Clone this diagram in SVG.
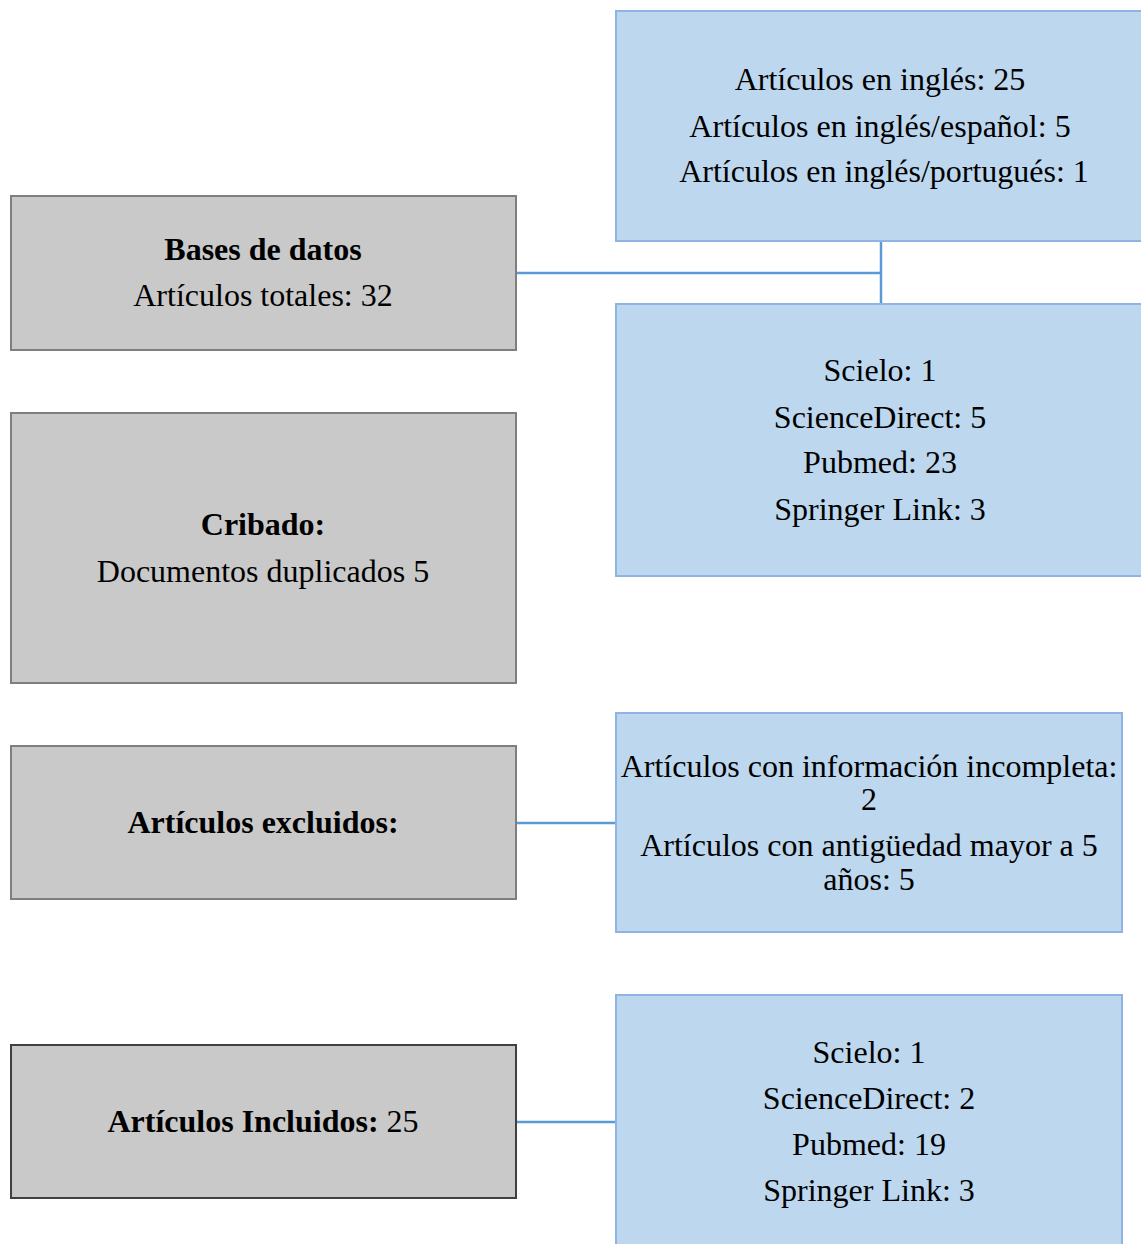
<svg xmlns="http://www.w3.org/2000/svg" width="1141" height="1244" viewBox="0 0 1141 1244">
<style>
text{font-family:"Liberation Serif","Times New Roman",serif;font-size:32px;fill:#000;text-anchor:middle}
.b{font-weight:bold}
.gray{fill:#c9c9c9;stroke:#7f7f7f;stroke-width:2}
.dark{stroke:#404040}
.blue{fill:#bdd7ee;stroke:#8fb4e3;stroke-width:2}
.conn{fill:none;stroke:#5b9bd5;stroke-width:2.5}
</style>
<rect width="1141" height="1244" fill="#fff"/>
<g id="connectors">
<path class="conn" d="M516 273H881"/>
<path class="conn" d="M881 241V304"/>
<path class="conn" d="M516 823H616"/>
<path class="conn" d="M516 1122H616"/>
</g>
<g id="idiomas">
<rect class="blue" x="616" y="11" width="530" height="230"/>
<text x="880" y="90">Artículos en inglés: 25</text>
<text x="880" y="137">Artículos en inglés/español: 5</text>
<text x="884" y="182">Artículos en inglés/portugués: 1</text>
</g>
<g id="bases">
<rect class="gray" x="11" y="196" width="505" height="154"/>
<text x="263" y="260" class="b">Bases de datos</text>
<text x="263" y="306">Artículos totales: 32</text>
</g>
<g id="fuentes">
<rect class="blue" x="616" y="304" width="530" height="272"/>
<text x="880" y="381">Scielo: 1</text>
<text x="880" y="428">ScienceDirect: 5</text>
<text x="880" y="473">Pubmed: 23</text>
<text x="880" y="520">Springer Link: 3</text>
</g>
<g id="cribado">
<rect class="gray" x="11" y="413" width="505" height="270"/>
<text x="263" y="535" class="b">Cribado:</text>
<text x="263" y="582">Documentos duplicados 5</text>
</g>
<g id="excluidos">
<rect class="gray" x="11" y="746" width="505" height="153"/>
<text x="263" y="833" class="b">Artículos excluidos:</text>
</g>
<g id="motivos">
<rect class="blue" x="616" y="713" width="506" height="219"/>
<text x="869" y="777">Artículos con información incompleta:</text>
<text x="869" y="810">2</text>
<text x="869" y="856">Artículos con antigüedad mayor a 5</text>
<text x="869" y="890">años: 5</text>
</g>
<g id="incluidos">
<rect class="gray dark" x="11" y="1045" width="505" height="153"/>
<text x="263" y="1132"><tspan class="b">Artículos Incluidos:</tspan> 25</text>
</g>
<g id="fuentes-incluidas">
<rect class="blue" x="616" y="995" width="506" height="260"/>
<text x="869" y="1063">Scielo: 1</text>
<text x="869" y="1109">ScienceDirect: 2</text>
<text x="869" y="1155">Pubmed: 19</text>
<text x="869" y="1201">Springer Link: 3</text>
</g>
</svg>
